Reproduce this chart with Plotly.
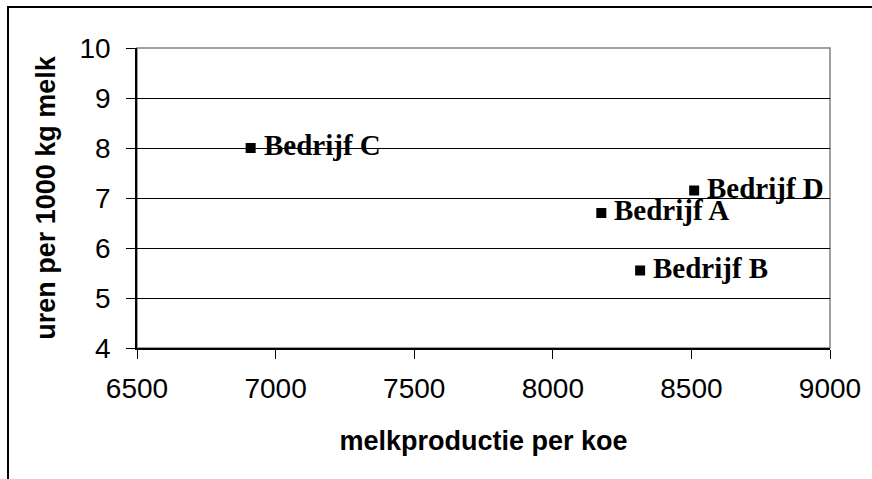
import plotly.graph_objects as go

# Farm data: milk production per cow vs. labour hours per 1000 kg milk
bedrijven = ["Bedrijf C", "Bedrijf D", "Bedrijf A", "Bedrijf B"]
melkproductie = [6910, 8510, 8175, 8315]
uren = [8.0, 7.15, 6.7, 5.55]

x_ticks = [6500, 7000, 7500, 8000, 8500, 9000]
y_ticks = [4, 5, 6, 7, 8, 9, 10]

W, H = 872, 479
L, R, T, B = 137, 42, 48, 131

fig = go.Figure()
fig.add_trace(go.Scatter(
    x=melkproductie, y=uren,
    mode="markers",
    marker=dict(symbol="square", size=10, color="black"),
    cliponaxis=False,
    showlegend=False,
))

# data labels next to each marker
label_font = dict(family="Liberation Serif, Times New Roman, serif", size=29,
                  color="black", weight="bold")
for naam, xv, yv in zip(bedrijven, melkproductie, uren):
    fig.add_annotation(x=xv, y=yv, text=naam, showarrow=False,
                       xanchor="left", yanchor="middle", xshift=11, yshift=3,
                       font=label_font)

# outer chart frame (runs off the right and bottom edges)
pw, ph = W - L - R, H - T - B
fig.add_shape(type="rect", xref="paper", yref="paper",
              x0=(8 - L) / pw, x1=(W + 20 - L) / pw,
              y0=-(H + 20 - (H - B)) / ph, y1=1 + (T - 7) / ph,
              line=dict(color="black", width=2), fillcolor="rgba(0,0,0,0)",
              layer="below")

# plot-area border (grey)
fig.add_shape(type="rect", xref="paper", yref="paper", x0=0, x1=1, y0=0, y1=1,
              line=dict(color="#808080", width=1.5), fillcolor="rgba(0,0,0,0)",
              layer="below")

axis_font = dict(family="Liberation Sans, Arial, sans-serif", size=28, color="black")
title_font = dict(family="Liberation Sans, Arial, sans-serif", size=27, color="black",
                  weight="bold")

fig.update_layout(
    width=W, height=H,
    margin=dict(l=L, r=R, t=T, b=B),
    paper_bgcolor="white", plot_bgcolor="white",
    xaxis=dict(
        range=[6500, 9000], tickvals=x_ticks, ticktext=[str(v) for v in x_ticks],
        showgrid=False, zeroline=False,
        showline=True, linecolor="black", linewidth=1.5,
        ticks="outside", ticklen=9, tickcolor="black", tickwidth=1,
        tickfont=axis_font, ticklabelstandoff=6,
        title=dict(text="melkproductie per koe", font=title_font, standoff=28),
    ),
    yaxis=dict(
        range=[4, 10], tickvals=y_ticks, ticktext=[str(v) for v in y_ticks],
        showgrid=True, gridcolor="black", gridwidth=1, zeroline=False,
        showline=True, linecolor="black", linewidth=1.5,
        ticks="outside", ticklen=9, tickcolor="black", tickwidth=1,
        tickfont=axis_font, ticklabelstandoff=10,
        title=dict(text="uren per 1000 kg melk", font=title_font, standoff=16),
    ),
)

fig.write_html("out.html")
